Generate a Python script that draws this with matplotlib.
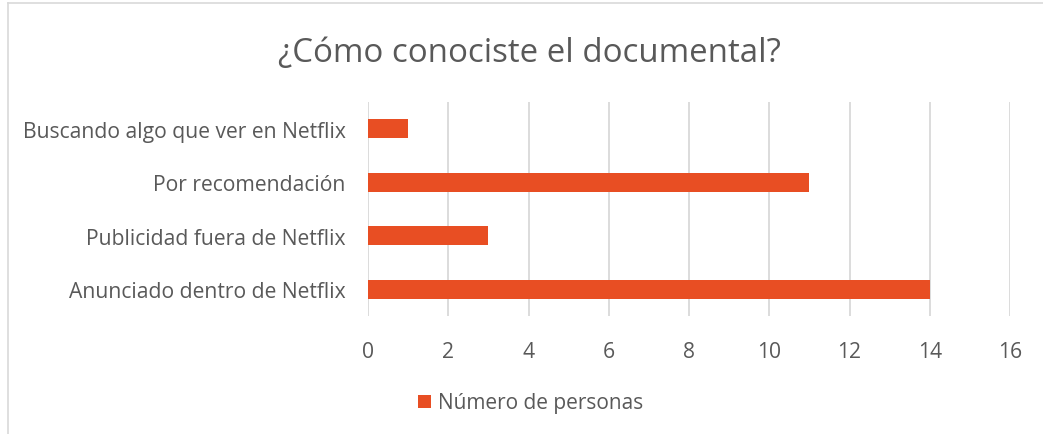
import matplotlib.pyplot as plt
from matplotlib.lines import Line2D
from matplotlib.patches import Patch

categories = ["Anunciado dentro de Netflix", "Publicidad fuera de Netflix",
              "Por recomendación", "Buscando algo que ver en Netflix"]
values = [14, 3, 11, 1]
series_name = "Número de personas"
title = "¿Cómo conociste el documental?"

bar_color = "#E84E23"
text_color = "#595959"
grid_color = "#D9D9D9"

plt.rcParams['font.family'] = ['Open Sans', 'DejaVu Sans']

W, H = 1043, 435
fig = plt.figure(figsize=(W / 100, H / 100), dpi=100)
ax = fig.add_axes([368 / W, 1 - 317 / H, (1010 - 368) / W, (317 - 103) / H])

ax.barh(range(len(categories)), values, height=0.36, color=bar_color, zorder=3)
ax.set_ylim(-0.5, len(categories) - 0.5)
ax.set_xlim(0, 16)
ax.set_xticks(range(0, 17, 2))
ax.set_yticks(range(len(categories)))
ax.set_yticklabels(categories)
ax.grid(axis='x', color=grid_color, linewidth=1.3, zorder=0)
for s in ax.spines.values():
    s.set_visible(False)
ax.tick_params(axis='both', length=0, labelsize=15.2, colors=text_color)
ax.tick_params(axis='x', pad=18)
ax.tick_params(axis='y', pad=16)

fig.text(529 / W, 1 - 54 / H, title, ha='center', va='center', fontsize=23.8, color=text_color)

handle = Patch(facecolor=bar_color, edgecolor='none')
fig.legend([handle], [series_name], loc='center', bbox_to_anchor=(531 / W, 1 - 404 / H),
           frameon=False, fontsize=15, labelcolor=text_color, handlelength=0.6,
           handleheight=0.6, handletextpad=0.35)

# chart frame (only top and left edges visible in the crop)
fig.add_artist(Line2D([8 / W, 8 / W], [0, 1 - 4 / H], color=grid_color, linewidth=1.2))
fig.add_artist(Line2D([8 / W, 1], [1 - 4 / H, 1 - 4 / H], color=grid_color, linewidth=1.2))

fig.savefig("out.png", dpi=100)
